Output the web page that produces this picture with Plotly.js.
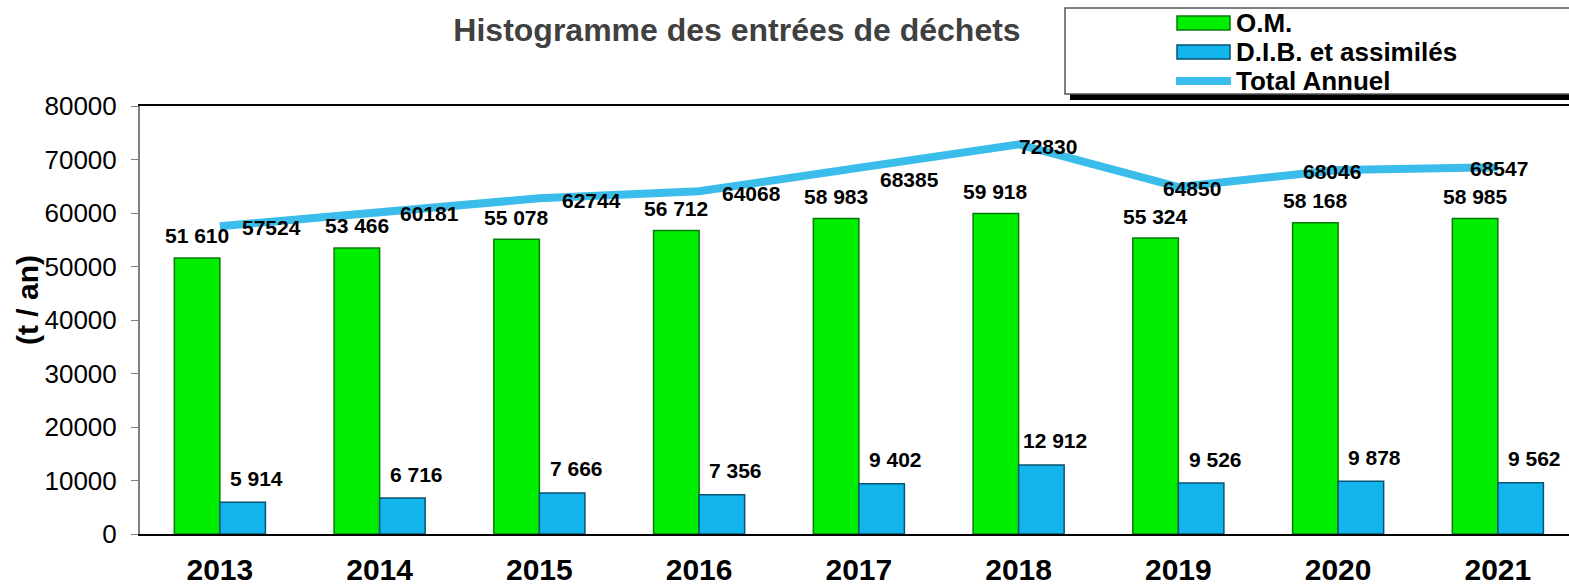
<!DOCTYPE html>
<html>
<head>
<meta charset="utf-8">
<script src="https://cdn.plot.ly/plotly-3.0.1.min.js"></script>
<style>
  html, body { margin: 0; padding: 0; background: #ffffff; overflow: hidden; }
  #chart { width: 1569px; height: 585px; }
</style>
</head>
<body>
<div id="chart"></div>
<script>
// ---- Data ----
const years = ['2013', '2014', '2015', '2016', '2017', '2018', '2019', '2020', '2021'];
const omValues = [51610, 53466, 55078, 56712, 58983, 59918, 55324, 58168, 58985];
const dibValues = [5914, 6716, 7666, 7356, 9402, 12912, 9526, 9878, 9562];
const totalValues = [57524, 60181, 62744, 64068, 68385, 72830, 64850, 68046, 68547];
const seriesNames = ['O.M.', 'D.I.B. et assimilés', 'Total Annuel'];
const chartTitle = 'Histogramme des entrées de déchets';
const yTitle = '(t / an)';

// ---- Style / placement (pixels) ----
const W = 1569, H = 585;
const L = 140, T = 106, B = 534;           // plot area left / top / bottom in pixels
const catW = 159.75;                        // pixels per category
const totalLabelShift = [[52, -1], [50, -1], [52, -2], [52, -2], [51, -11], [29, -2], [14, -1], [-6, -2], [1, -1]];
const GREEN = '#00EE00', GREEN_EDGE = '#0A7A0A';
const BLUE = '#12B6EC', BLUE_EDGE = '#0A5272';
const LINE = '#3BBDEB';
const FONT = 'Liberation Sans, Arial, Helvetica, sans-serif';

const px = x => (x - L) / (W - L);
const py = y => (B - y) / (B - T);
const fmt = v => String(v).replace(/\B(?=(\d{3})+(?!\d))/g, ' ');

const traces = [
  { type: 'bar', name: seriesNames[0], x: years, y: omValues,
    marker: { color: GREEN, line: { color: GREEN_EDGE, width: 1.5 } }, hoverinfo: 'x+y' },
  { type: 'bar', name: seriesNames[1], x: years, y: dibValues,
    marker: { color: BLUE, line: { color: BLUE_EDGE, width: 1.5 } }, hoverinfo: 'x+y' },
  { type: 'scatter', mode: 'lines', name: seriesNames[2], x: years, y: totalValues,
    line: { color: LINE, width: 8 }, hoverinfo: 'x+y' }
];

const annotations = [];
const barHalf = 22.75;
const labelFont = { family: FONT, size: 21, color: '#000', weight: 'bold' };
years.forEach((yr, i) => {
  annotations.push({ x: i, y: omValues[i], xref: 'x', yref: 'y', text: fmt(omValues[i]),
    showarrow: false, xshift: -barHalf, yshift: 22, yanchor: 'middle', xanchor: 'center',
    font: labelFont });
  annotations.push({ x: i, y: dibValues[i], xref: 'x', yref: 'y', text: fmt(dibValues[i]),
    showarrow: false, xshift: barHalf + 14, yshift: 24, yanchor: 'middle', xanchor: 'center',
    font: labelFont });
  annotations.push({ x: i, y: totalValues[i], xref: 'x', yref: 'y', text: String(totalValues[i]),
    showarrow: false, xshift: totalLabelShift[i][0], yshift: totalLabelShift[i][1], yanchor: 'middle', xanchor: 'center',
    font: labelFont });
});

// y axis title
annotations.push({ xref: 'paper', yref: 'paper', x: px(27), y: py(300), text: yTitle, textangle: -90,
  showarrow: false, xanchor: 'center', yanchor: 'middle',
  font: { family: FONT, size: 30, color: '#000', weight: 'bold' } });

// custom legend
const legendRows = [23, 52, 81];
seriesNames.forEach((nm, i) => {
  annotations.push({ xref: 'paper', yref: 'paper', x: px(1234), y: py(legendRows[i]), text: nm,
    showarrow: false, xanchor: 'left', yanchor: 'middle',
    font: { family: FONT, size: 26, color: '#000', weight: 'bold' } });
});

const shapes = [
  // legend shadow
  { type: 'rect', xref: 'paper', yref: 'paper', x0: px(1070), x1: px(1572), y0: py(100), y1: py(94),
    fillcolor: '#000', line: { width: 0 }, layer: 'below' },
  // legend box
  { type: 'rect', xref: 'paper', yref: 'paper', x0: px(1065), x1: px(1572), y0: py(94), y1: py(8),
    fillcolor: '#fff', line: { color: '#555', width: 1.5 }, layer: 'below' },
  // legend symbols
  { type: 'rect', xref: 'paper', yref: 'paper', x0: px(1177), x1: px(1230), y0: py(30), y1: py(16),
    fillcolor: GREEN, line: { color: GREEN_EDGE, width: 1.5 } },
  { type: 'rect', xref: 'paper', yref: 'paper', x0: px(1177), x1: px(1230), y0: py(59), y1: py(45),
    fillcolor: BLUE, line: { color: BLUE_EDGE, width: 1.5 } },
  { type: 'line', xref: 'paper', yref: 'paper', x0: px(1176), x1: px(1231), y0: py(81), y1: py(81),
    line: { color: LINE, width: 8 } }
];

const layout = {
  width: W, height: H,
  margin: { l: L, r: 0, t: T, b: H - B, pad: 0 },
  paper_bgcolor: '#fff', plot_bgcolor: '#fff',
  showlegend: false,
  barmode: 'group', bargap: 0.43, bargroupgap: 0,
  title: { text: chartTitle, x: 737 / W, xref: 'container', xanchor: 'center',
    y: 1 - 30 / H, yref: 'container', yanchor: 'middle',
    font: { family: FONT, size: 32, color: '#404040', weight: 'bold' } },
  xaxis: {
    type: 'category', range: [-0.5, -0.5 + (W - L) / catW],
    showline: true, linecolor: '#000', linewidth: 2, mirror: true,
    showgrid: false, zeroline: false, ticks: '',
    ticklabelstandoff: 8,
    tickfont: { family: FONT, size: 30, color: '#000', weight: 'bold' }
  },
  yaxis: {
    range: [0, 80000], dtick: 10000, tickformat: 'd',
    showline: true, linecolor: '#808080', linewidth: 2,
    showgrid: false, zeroline: false,
    ticks: 'outside', ticklen: 7, tickcolor: '#808080', tickwidth: 1,
    ticklabelstandoff: 9,
    tickfont: { family: FONT, size: 26, color: '#000' }
  },
  annotations: annotations,
  shapes: shapes
};

Plotly.newPlot('chart', traces, layout, { displayModeBar: false, staticPlot: true });
</script>
</body>
</html>
